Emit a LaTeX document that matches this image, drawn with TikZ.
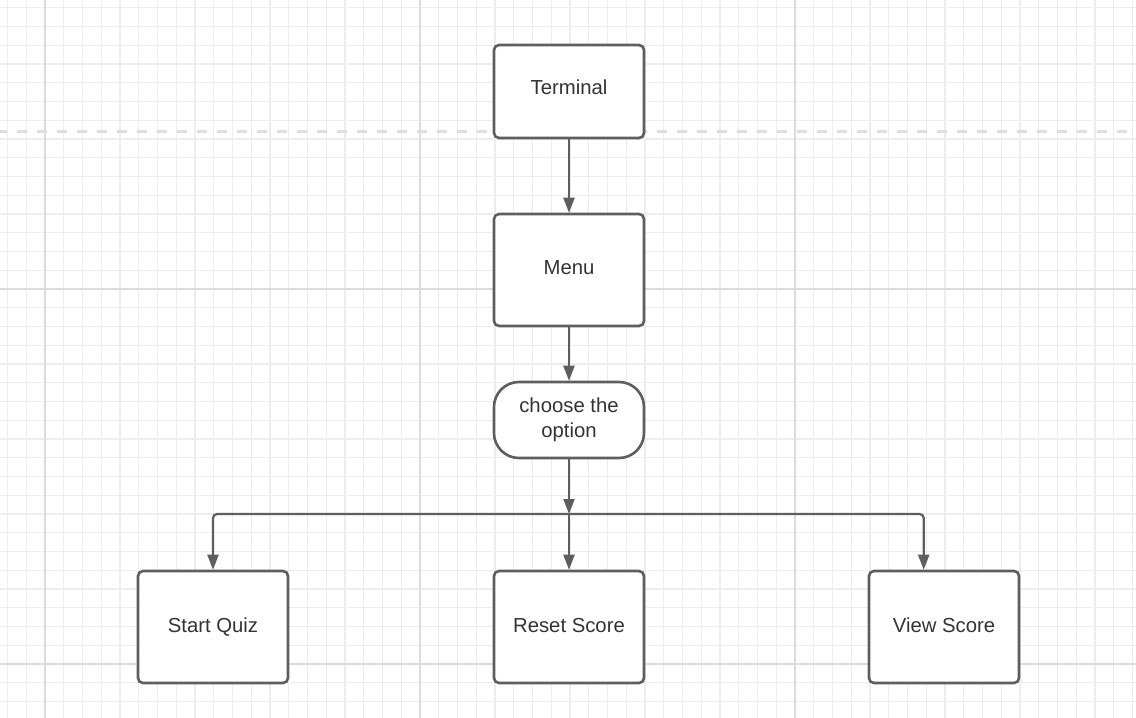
\documentclass[tikz,border=0pt]{standalone}
\usepackage{fontspec}
\setmainfont{Liberation Sans}
\usetikzlibrary{arrows.meta,calc}
\definecolor{gridminor}{HTML}{EDEDED}
\definecolor{gridmajor}{HTML}{DCDCDC}
\definecolor{dashgray}{HTML}{DDDDDD}
\definecolor{boxgray}{HTML}{5E5E5E}
\definecolor{textgray}{HTML}{333333}
\begin{document}
\begin{tikzpicture}[x=1pt,y=-1pt,
  minorline/.style={gridminor,line width=1.1pt},
  majorline/.style={gridmajor,line width=1.6pt},
  box/.style={draw=boxgray,line width=2.6pt,fill=white,rounded corners=5pt,
    minimum width=150pt,minimum height=112pt,inner sep=0pt,text=textgray,
    font=\fontsize{20.3}{25}\selectfont,align=center},
  oneline/.style={text height=15pt,text depth=4pt},
  conn/.style={boxgray,line width=2.2pt,-{Triangle[length=15pt,width=11pt]}}]
% canvas
\fill[white] (0,0) rectangle (1136,718);
\useasboundingbox (0,0) rectangle (1136,718);
% grid
\foreach \k in {-2,...,58} \draw[minorline] ({45+18.75*\k},0) -- ({45+18.75*\k},718);
\foreach \k in {-15,...,22} \draw[minorline] (0,{289+18.75*\k}) -- (1136,{289+18.75*\k});
\foreach \xx in {45,420,795} \draw[majorline] (\xx,0) -- (\xx,718);
\foreach \yy in {289,664} \draw[majorline] (0,\yy) -- (1136,\yy);
\draw[dashgray,line width=3pt,dash pattern=on 10pt off 10pt] (-3.3,131.5) -- (1136,131.5);
% nodes
\node[box,oneline,minimum height=93pt] (terminal) at (569,91.5) {\raisebox{3pt}{Terminal}};
\node[box,oneline] (menu) at (569,270) {\raisebox{1pt}{Menu}};
\node[box,minimum height=76pt,rounded corners=25pt] (choose) at (569,420) {choose the\\option};
\node[box,oneline] (start) at (213,627) {Start Quiz};
\node[box,oneline] (reset) at (569,627) {Reset Score};
\node[box,oneline] (view) at (944,627) {View Score};
\coordinate (bus) at (569,514);
\coordinate (vtop) at ($(view.north west)+(56,0)$);
% connectors
\draw[conn] (terminal.south) -- (menu.north);
\draw[conn] (menu.south) -- (choose.north);
\draw[conn] (choose.south) -- (bus);
\draw[conn,rounded corners=4pt] (bus) -| (start.north);
\draw[conn,rounded corners=4pt] (bus) -| (vtop);
\draw[conn] (bus) -- (reset.north);
\end{tikzpicture}
\end{document}
